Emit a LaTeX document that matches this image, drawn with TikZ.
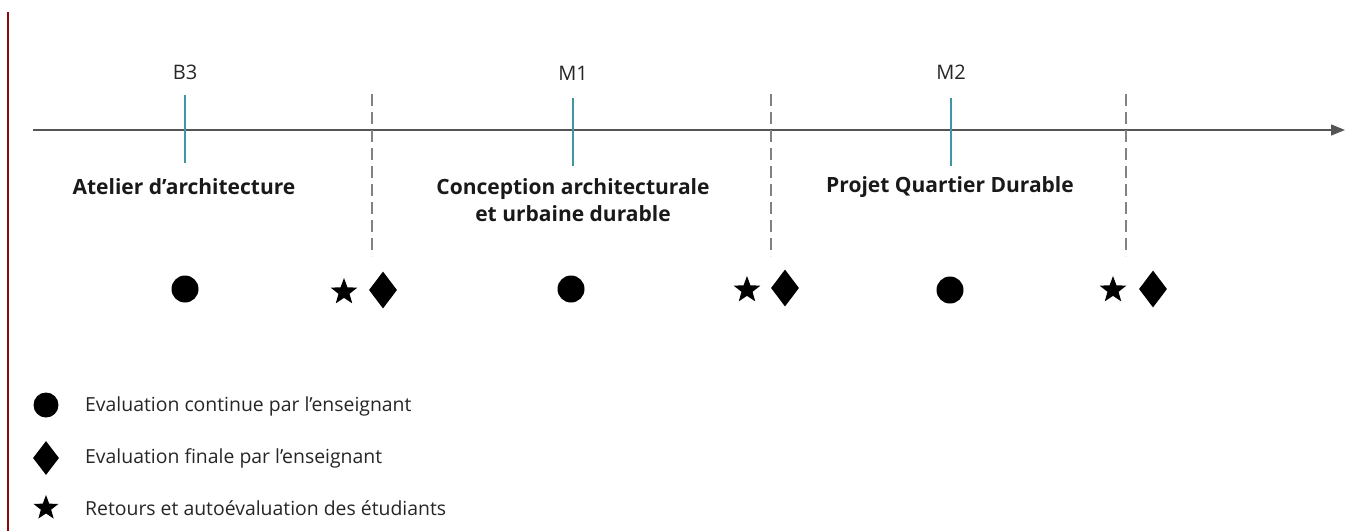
\documentclass[tikz,border=0pt]{standalone}
\usepackage{fontspec}
\setmainfont{Open Sans}
\usetikzlibrary{shapes.geometric,arrows.meta}
\definecolor{axisgray}{RGB}{85,85,85}
\definecolor{dashgray}{RGB}{130,130,130}
\definecolor{tickteal}{RGB}{64,150,162}
\definecolor{sidered}{RGB}{140,10,10}
\tikzset{
  dot/.style={circle,fill=black,inner sep=0pt,minimum size=27pt},
  diam/.style={diamond,fill=black,inner sep=0pt,minimum width=28pt,minimum height=37pt},
  starsym/.style={star,star points=5,star point ratio=2.4,fill=black,inner sep=0pt,minimum size=28pt},
  lgdot/.style={dot,minimum size=25pt},
  lgdiam/.style={diam,minimum width=26pt,minimum height=34pt},
  lgstar/.style={starsym,minimum size=26pt},
  yearlbl/.style={font=\fontsize{20pt}{24pt}\selectfont,text=black!85,inner sep=0pt},
  courselbl/.style={font=\fontsize{21pt}{27pt}\selectfont\bfseries,align=center,inner sep=0pt,text=black!90},
  legtext/.style={font=\fontsize{19.4pt}{22pt}\selectfont,anchor=west,inner sep=0pt,text=black!85},
  tickline/.style={tickteal,line width=1.5pt},
  sepline/.style={dashgray,line width=1.5pt,dash pattern=on 12pt off 6pt},
}
\begin{document}
\begin{tikzpicture}[x=1pt,y=-1pt]
\useasboundingbox (0,0) rectangle (1358,531);
% left side rule
\coordinate (rt) at (8,12);
\coordinate (rb) at (8,531);
\draw[sidered,line width=1.6pt] (rt) -- (rb);
% axis
\coordinate (ax0) at (33,130);
\coordinate (ax1) at (1345,130);
\draw[axisgray,line width=1.4pt,-{Triangle[length=14pt,width=11pt]}] (ax0) -- (ax1);
% ticks
\coordinate (t1a) at (185,95);  \coordinate (t1b) at (185,163);
\coordinate (t2a) at (573,98);  \coordinate (t2b) at (573,166);
\coordinate (t3a) at (951,98);  \coordinate (t3b) at (951,166);
\draw[tickline] (t1a) -- (t1b);
\draw[tickline] (t2a) -- (t2b);
\draw[tickline] (t3a) -- (t3b);
% separators
\coordinate (s1a) at (372,94);  \coordinate (s1b) at (372,256);
\coordinate (s2a) at (771,94);  \coordinate (s2b) at (771,256);
\coordinate (s3a) at (1126,94); \coordinate (s3b) at (1126,256);
\draw[sepline] (s1a) -- (s1b);
\draw[sepline] (s2a) -- (s2b);
\draw[sepline] (s3a) -- (s3b);
% year labels
\node[yearlbl] (b3) at (185,72) {B3};
\node[yearlbl] (m1) at (573,73) {M1};
\node[yearlbl] (m2) at (951,72) {M2};
% course labels
\node[courselbl] (c1) at (184,187) {Atelier d’architecture};
\node[courselbl] (c2) at (573,200) {Conception architecturale\\et urbaine durable};
\node[courselbl] (c3) at (950,187) {Projet Quartier Durable};
% symbols
\node[dot] (d1) at (185,289) {};
\node[starsym] (st1) at (344,292) {};
\node[diam] (di1) at (383,290) {};
\node[dot] (d2) at (571,289) {};
\node[starsym] (st2) at (747,290) {};
\node[diam] (di2) at (785,288) {};
\node[dot] (d3) at (950,290) {};
\node[starsym] (st3) at (1113,290) {};
\node[diam] (di3) at (1153,289) {};
% legend
\node[lgdot] (ld) at (46,405) {};
\node[lgdiam] (ldi) at (46,458) {};
\node[lgstar] (ls) at (46,508) {};
\node[legtext] (lt1) at (85,406) {Evaluation continue par l’enseignant};
\node[legtext] (lt2) at (85,458) {Evaluation finale par l’enseignant};
\node[legtext] (lt3) at (85,508) {Retours et autoévaluation des étudiants};
\end{tikzpicture}
\end{document}
